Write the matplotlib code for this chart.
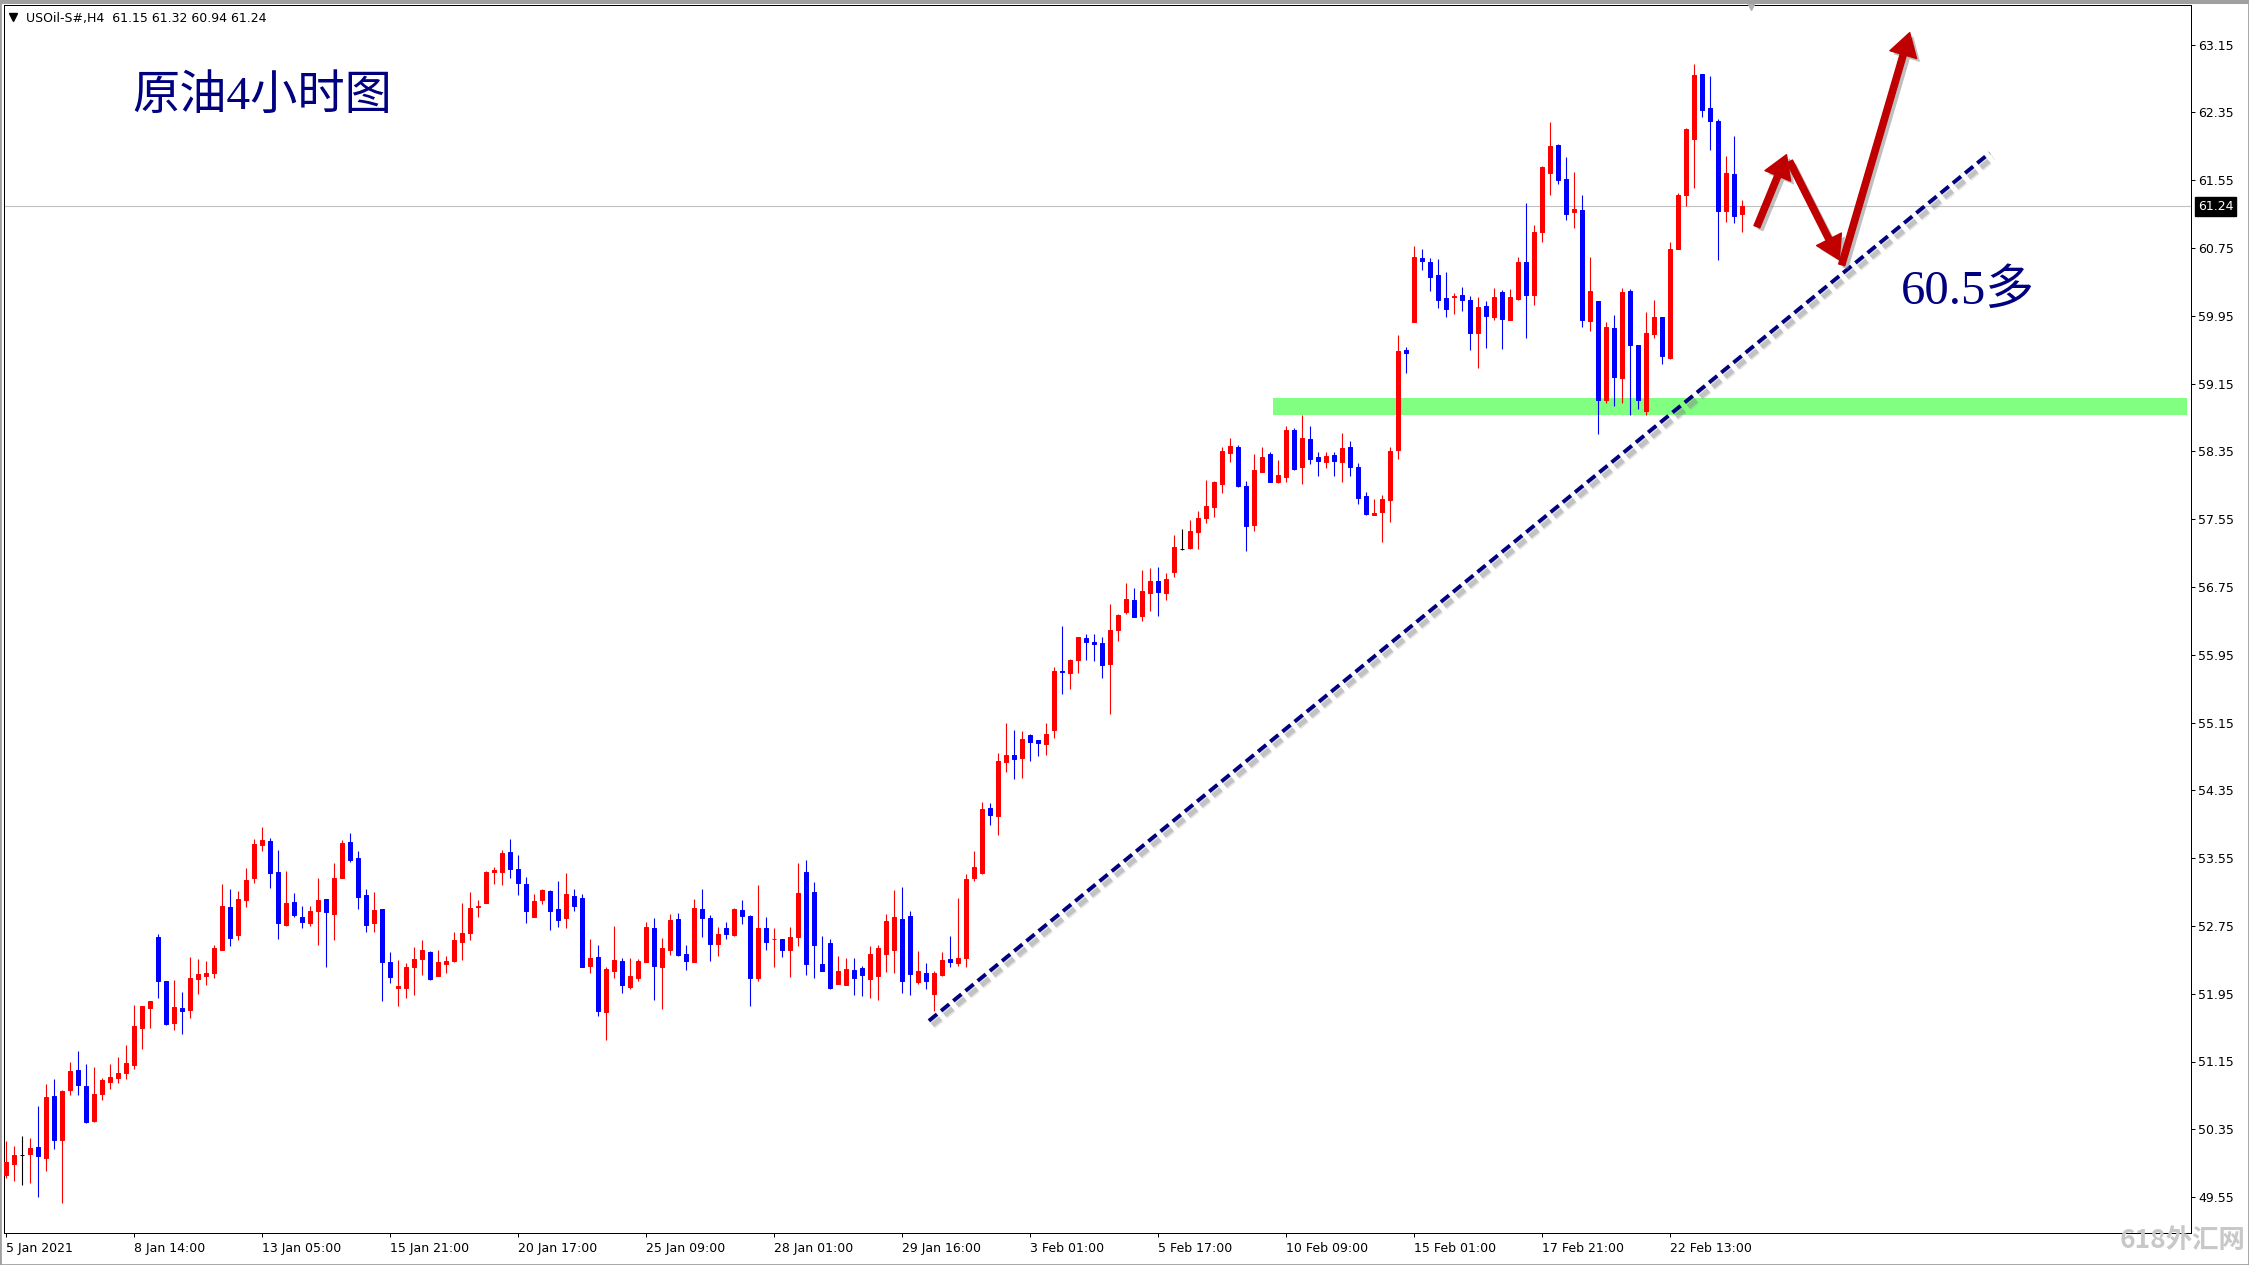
import matplotlib
matplotlib.use("Agg")
import matplotlib.pyplot as plt
import matplotlib.patheffects as pe
from matplotlib.patches import FancyArrowPatch, Rectangle
from matplotlib.lines import Line2D
import numpy as np

# ---------------- data ----------------
opens = [49.81, 49.94, 50.05, 50.06, 50.14, 50.01, 50.74, 50.22, 50.81, 51.05,
         50.86, 50.45, 50.77, 50.91, 50.95, 51.01, 51.11, 51.55, 51.78, 52.62,
         52.10, 51.61, 51.78, 51.76, 52.12, 52.16, 52.19, 52.47, 52.97, 52.64,
         53.05, 53.32, 53.71, 53.75, 53.39, 52.76, 53.03, 52.86, 52.79, 52.92,
         53.07, 52.89, 53.31, 53.74, 53.55, 53.11, 52.78, 52.95, 52.32, 52.02,
         52.02, 52.26, 52.36, 52.44, 52.16, 52.30, 52.34, 52.56, 52.67, 52.97,
         53.02, 53.39, 53.39, 53.62, 53.42, 53.25, 52.86, 53.05, 53.16, 52.95,
         52.84, 53.10, 53.08, 52.28, 52.38, 51.73, 52.22, 52.34, 52.03, 52.14,
         52.32, 52.73, 52.27, 52.47, 52.83, 52.42, 52.32, 52.95, 52.84, 52.54,
         52.73, 52.64, 52.94, 52.87, 52.13, 52.73, 52.59, 52.60, 52.46, 52.62,
         53.39, 53.15, 52.30, 52.55, 52.06, 52.05, 52.23, 52.25, 52.12, 52.16,
         52.42, 52.47, 52.83, 52.87, 52.09, 52.19, 51.95, 52.17, 52.36, 52.31,
         52.37, 53.31, 53.37, 54.14, 54.05, 54.68, 54.77, 54.73, 55.00, 54.94,
         54.90, 55.06, 55.76, 55.73, 55.89, 56.15, 56.10, 56.09, 55.84, 56.24,
         56.45, 56.60, 56.41, 56.68, 56.82, 56.68, 56.92, 57.20, 57.21, 57.40,
         57.56, 57.69, 57.97, 58.33, 58.40, 57.94, 57.48, 58.11, 58.32, 57.99,
         58.05, 58.60, 58.16, 58.50, 58.28, 58.22, 58.31, 58.22, 58.40, 58.16,
         57.82, 57.60, 57.63, 57.77, 58.36, 59.54, 59.87, 60.63, 60.58, 60.43,
         60.16, 60.17, 60.19, 60.13, 59.75, 60.06, 59.94, 60.23, 59.90, 60.15,
         60.58, 60.20, 60.94, 61.63, 61.96, 61.56, 61.17, 61.20, 59.89, 60.12,
         58.95, 59.81, 59.22, 60.24, 59.60, 58.82, 59.73, 59.93, 59.45, 60.74,
         61.38, 62.03, 62.80, 62.40, 62.25, 61.19, 61.62, 61.15]

highs = [50.21, 50.15, 50.27, 50.25, 50.62, 50.88, 50.94, 50.81, 51.14, 51.27,
         51.12, 51.08, 50.96, 51.12, 51.20, 51.34, 51.82, 51.81, 51.86, 52.65,
         52.10, 52.11, 51.97, 52.38, 52.36, 52.33, 52.52, 53.24, 53.18, 53.16,
         53.43, 53.77, 53.92, 53.79, 53.65, 53.40, 53.14, 52.98, 52.98, 53.31,
         53.07, 53.49, 53.76, 53.85, 53.63, 53.18, 53.15, 52.95, 52.44, 52.35,
         52.31, 52.50, 52.58, 52.45, 52.47, 52.39, 52.68, 53.02, 53.15, 53.05,
         53.40, 53.44, 53.65, 53.77, 53.59, 53.33, 53.13, 53.18, 53.17, 53.28,
         53.37, 53.18, 53.13, 52.59, 52.52, 52.27, 52.75, 52.37, 52.37, 52.36,
         52.80, 52.84, 52.61, 52.89, 52.90, 52.53, 53.07, 53.19, 52.88, 52.74,
         52.80, 52.96, 53.06, 52.88, 53.23, 52.86, 52.73, 52.60, 52.74, 53.49,
         53.53, 53.27, 52.63, 52.60, 52.40, 52.37, 52.37, 52.28, 52.51, 52.53,
         52.89, 53.17, 53.21, 52.93, 52.45, 52.31, 52.22, 52.44, 52.63, 53.08,
         53.36, 53.63, 54.21, 54.20, 54.79, 55.14, 55.06, 55.05, 55.01, 54.94,
         55.15, 55.80, 56.29, 55.90, 56.16, 56.19, 56.20, 56.16, 56.55, 56.43,
         56.80, 56.74, 56.95, 56.97, 56.98, 56.91, 57.36, 57.43, 57.54, 57.65,
         58.01, 58.00, 58.40, 58.51, 58.42, 58.00, 58.32, 58.40, 58.34, 58.25,
         58.65, 58.62, 58.78, 58.65, 58.34, 58.34, 58.34, 58.57, 58.47, 58.21,
         57.87, 57.79, 57.83, 58.40, 59.72, 59.58, 60.77, 60.74, 60.63, 60.62,
         60.46, 60.22, 60.29, 60.18, 60.17, 60.12, 60.28, 60.25, 60.27, 60.64,
         61.28, 61.02, 61.72, 62.24, 61.98, 61.82, 61.65, 61.37, 60.64, 60.12,
         59.88, 59.96, 60.28, 60.26, 59.61, 59.99, 60.13, 59.93, 60.82, 61.40,
         62.16, 62.92, 62.80, 62.78, 62.27, 61.83, 62.07, 61.32]

lows = [49.78, 49.74, 49.69, 49.72, 49.55, 49.86, 50.12, 49.48, 50.75, 50.75,
        50.43, 50.44, 50.70, 50.82, 50.90, 50.94, 51.06, 51.30, 51.55, 51.90,
        51.58, 51.52, 51.47, 51.66, 51.95, 52.05, 52.13, 52.46, 52.51, 52.58,
        52.97, 53.26, 53.63, 53.20, 52.59, 52.75, 52.85, 52.73, 52.75, 52.52,
        52.27, 52.58, 53.31, 53.50, 52.95, 52.68, 52.68, 51.86, 52.08, 51.80,
        51.90, 51.93, 52.17, 52.11, 52.16, 52.19, 52.32, 52.35, 52.58, 52.85,
        53.02, 53.24, 53.23, 53.31, 53.12, 52.79, 52.85, 53.01, 52.70, 52.74,
        52.73, 52.93, 52.27, 52.19, 51.69, 51.40, 52.13, 51.96, 52.00, 52.10,
        52.32, 51.87, 51.77, 52.41, 52.39, 52.23, 52.32, 52.62, 52.34, 52.40,
        52.59, 52.63, 52.77, 51.80, 52.10, 52.46, 52.26, 52.38, 52.15, 52.51,
        52.17, 52.14, 52.22, 52.00, 52.06, 52.05, 51.94, 51.92, 51.90, 51.87,
        52.21, 52.19, 51.96, 51.94, 52.06, 52.00, 51.75, 52.16, 52.26, 52.28,
        52.26, 53.28, 53.36, 53.94, 53.82, 54.57, 54.48, 54.49, 54.70, 54.75,
        54.77, 54.97, 55.49, 55.55, 55.73, 55.89, 55.87, 55.68, 55.25, 56.11,
        56.43, 56.40, 56.35, 56.46, 56.41, 56.59, 56.87, 57.18, 57.20, 57.20,
        57.50, 57.57, 57.86, 58.22, 57.93, 57.17, 57.41, 58.11, 57.99, 57.98,
        57.99, 58.13, 57.97, 58.20, 58.06, 58.15, 58.06, 57.99, 58.06, 57.73,
        57.60, 57.60, 57.28, 57.51, 58.26, 59.27, 59.87, 60.49, 60.24, 60.04,
        59.93, 59.97, 60.00, 59.54, 59.33, 59.57, 59.90, 59.56, 59.90, 60.14,
        59.69, 60.08, 60.82, 61.37, 61.50, 61.08, 60.99, 59.82, 59.77, 58.56,
        58.92, 58.88, 58.92, 58.78, 58.85, 58.78, 59.69, 59.38, 59.44, 60.74,
        61.24, 61.46, 62.30, 61.91, 60.61, 61.06, 61.04, 60.94]

closes = [49.97, 50.05, 50.05, 50.13, 50.03, 50.73, 50.22, 50.80, 51.04, 50.87,
          50.44, 50.77, 50.93, 50.97, 51.01, 51.13, 51.57, 51.80, 51.86, 52.10,
          51.59, 51.79, 51.75, 52.14, 52.18, 52.19, 52.49, 52.98, 52.61, 53.07,
          53.29, 53.72, 53.76, 53.37, 52.78, 53.02, 52.88, 52.80, 52.93, 53.05,
          52.91, 53.31, 53.73, 53.53, 53.09, 52.76, 52.94, 52.32, 52.15, 52.04,
          52.27, 52.36, 52.47, 52.12, 52.32, 52.34, 52.58, 52.67, 52.96, 52.98,
          53.39, 53.41, 53.61, 53.42, 53.26, 52.92, 53.04, 53.17, 52.93, 52.82,
          53.13, 52.98, 52.27, 52.37, 51.74, 52.24, 52.35, 52.05, 52.16, 52.34,
          52.74, 52.28, 52.49, 52.82, 52.41, 52.33, 52.96, 52.84, 52.54, 52.65,
          52.65, 52.95, 52.87, 52.13, 52.73, 52.56, 52.60, 52.46, 52.62, 53.14,
          52.30, 52.53, 52.22, 52.02, 52.22, 52.24, 52.13, 52.17, 52.42, 52.49,
          52.81, 52.86, 52.10, 52.18, 52.22, 52.10, 52.19, 52.35, 52.32, 52.37,
          53.30, 53.44, 54.13, 54.06, 54.70, 54.77, 54.72, 54.96, 54.92, 54.91,
          55.01, 55.76, 55.74, 55.89, 56.16, 56.10, 56.08, 55.83, 56.24, 56.42,
          56.61, 56.40, 56.70, 56.82, 56.69, 56.84, 57.22, 57.20, 57.41, 57.56,
          57.70, 57.99, 58.35, 58.41, 57.94, 57.47, 58.13, 58.28, 57.99, 58.07,
          58.60, 58.14, 58.51, 58.26, 58.23, 58.30, 58.24, 58.39, 58.17, 57.80,
          57.61, 57.62, 57.79, 58.35, 59.53, 59.51, 60.64, 60.59, 60.41, 60.14,
          60.03, 60.18, 60.14, 59.74, 60.05, 59.95, 60.17, 59.91, 60.17, 60.58,
          60.19, 60.94, 61.70, 61.95, 61.55, 61.15, 61.21, 59.90, 60.24, 58.96,
          59.82, 59.23, 60.23, 59.60, 58.96, 59.75, 59.94, 59.47, 60.74, 61.38,
          62.15, 62.79, 62.38, 62.25, 61.18, 61.63, 61.13, 61.24]

date_labels = ["5 Jan 2021", "8 Jan 14:00", "13 Jan 05:00", "15 Jan 21:00",
               "20 Jan 17:00", "25 Jan 09:00", "28 Jan 01:00", "29 Jan 16:00",
               "3 Feb 01:00", "5 Feb 17:00", "10 Feb 09:00", "15 Feb 01:00",
               "17 Feb 21:00", "22 Feb 13:00"]
bars_per_label = 16
price_ticks = [49.55, 50.35, 51.15, 51.95, 52.75, 53.55, 54.35, 55.15, 55.95,
               56.75, 57.55, 58.35, 59.15, 59.95, 60.75, 61.55, 62.35, 63.15]

header_text = "USOil-S#,H4  61.15 61.32 60.94 61.24"
current_price = 61.24
support_low, support_high = 58.78, 58.98
support_start = 158.4
trend_start = (115.4, 51.63)
trend_end = (248.0, 61.87)
arrow_paths = [((218.9, 61.00), (222.6, 61.85)),
               ((223.0, 61.77), (229.2, 60.61)),
               ((229.5, 60.55), (238.0, 63.29))]
title_text = "原油4小时图"
target_text = "60.5多"
watermark_text = "618外汇网"

# ---------------- figure ----------------
W, H = 2249, 1265
fig = plt.figure(figsize=(W / 100, H / 100), dpi=100)
fig.patch.set_facecolor("white")

ax_left, ax_right, ax_top, ax_bottom = 4, 2191, 4.5, 1233
ax = fig.add_axes([ax_left / W, 1 - ax_bottom / H,
                   (ax_right - ax_left) / W, (ax_bottom - ax_top) / H])

n = len(opens)
x = np.arange(n)
o = np.array(opens); h = np.array(highs); l = np.array(lows); c = np.array(closes)
cols = np.where(c > o, "#FF0000", np.where(c < o, "#0000FF", "#000000"))

ax.vlines(x, l, h, colors=cols, linewidth=0.8, zorder=3)
ax.bar(x, np.abs(c - o), bottom=np.minimum(o, c), width=0.5, color=cols,
       edgecolor=cols, linewidth=0.72, zorder=4)

xmin, xmax = (ax_left - 5.7) / 8, (ax_right - 5.7) / 8
ymax = 63.15 - (ax_top - 44.5) / 84.75
ymin = 63.15 - (ax_bottom - 44.5) / 84.75
ax.set_xlim(xmin, xmax)
ax.set_ylim(ymin, ymax)

# support band
ax.add_patch(Rectangle((support_start, support_low), 272.7 - support_start,
                       support_high - support_low, facecolor="#80FF80",
                       edgecolor="none", zorder=2))

# current price line
ax.axhline(current_price, color="#C0C0C0", linewidth=0.8, zorder=1)

# trend line with soft shadow
shadow_fx = [pe.SimpleLineShadow(offset=(2.6, -3.2), shadow_color="#909090",
                                 alpha=0.22, linewidth=6.0),
             pe.SimpleLineShadow(offset=(2.6, -3.2), shadow_color="#808080",
                                 alpha=0.35, linewidth=3.6),
             pe.Normal()]
ax.plot([trend_start[0], trend_end[0]], [trend_start[1], trend_end[1]],
        color="#000080", linewidth=2.8, linestyle=(0, (2.7, 1.35)),
        dash_capstyle="butt", zorder=5, path_effects=shadow_fx)

# arrows
for tail, tip in arrow_paths:
    arr = FancyArrowPatch(tail, tip,
                          arrowstyle="simple,head_length=1.65,head_width=2.0,tail_width=0.45",
                          mutation_scale=10, color="#C00000", shrinkA=0, shrinkB=0,
                          zorder=6,
                          path_effects=[pe.withSimplePatchShadow(offset=(2.5, -2.5),
                                                                 shadow_rgbFace="#808080",
                                                                 alpha=0.5)])
    ax.add_patch(arr)

# texts
cjk_serif = ["Liberation Serif", "Noto Sans CJK SC"]
ax.text((132 - ax_left) / (ax_right - ax_left), 1 - (97 - ax_top) / (ax_bottom - ax_top),
        title_text, transform=ax.transAxes, fontsize=34, color="#000080",
        family=cjk_serif, ha="left", va="center", zorder=7)
ax.text((1901 - ax_left) / (ax_right - ax_left), 1 - (291 - ax_top) / (ax_bottom - ax_top),
        target_text, transform=ax.transAxes, fontsize=35, color="#000080",
        family=cjk_serif, ha="left", va="center", zorder=7)

# axes styling
for s in ax.spines.values():
    s.set_color("black")
    s.set_linewidth(0.72)
ax.yaxis.tick_right()
ax.set_yticks(price_ticks)
ax.set_yticklabels([f"{v:.2f}" for v in price_ticks])
ax.tick_params(axis="y", direction="out", length=2.9, width=0.72, pad=2.2,
               labelsize=9, colors="black", left=False)
ax.set_xticks([i * bars_per_label for i in range(len(date_labels))])
ax.set_xticklabels(date_labels, ha="left")
ax.tick_params(axis="x", direction="out", length=2.9, width=0.72, pad=3.6,
               labelsize=9, colors="black")

# current price box
ax.text(1 + 7 / (ax_right - ax_left), current_price, f"{current_price:.2f}",
        transform=ax.get_yaxis_transform(), fontsize=9, color="white",
        ha="left", va="center", clip_on=False, zorder=8,
        bbox=dict(boxstyle="square,pad=0.22", facecolor="black", edgecolor="black"))

# header
fig.add_artist(Line2D([13 / W], [1 - 17 / H], marker="v", markersize=6,
                      color="black", transform=fig.transFigure, linestyle="none"))
fig.text(26 / W, 1 - 18.5 / H, header_text, fontsize=9, color="black",
         ha="left", va="center", family="DejaVu Sans")
fig.add_artist(Line2D([1751 / W], [1 - 6 / H], marker="v", markersize=6,
                      color="#B0B0B0", transform=fig.transFigure, linestyle="none"))

# window border
fig.add_artist(Rectangle((0, 0), 1, 1, transform=fig.transFigure, fill=False,
                         edgecolor="#A0A0A0", linewidth=2.0))
fig.add_artist(Line2D([0, 1], [1 - 1.5 / H, 1 - 1.5 / H], transform=fig.transFigure,
                      color="#A0A0A0", linewidth=2.2))

# watermark
fig.text(2120 / W, 1 - 1240 / H, watermark_text, fontsize=19, color="#C8C8C8",
         fontweight="bold", family=["Noto Sans CJK SC", "DejaVu Sans"],
         ha="left", va="center", zorder=10)

fig.savefig("out.png", dpi=100, facecolor="white")
